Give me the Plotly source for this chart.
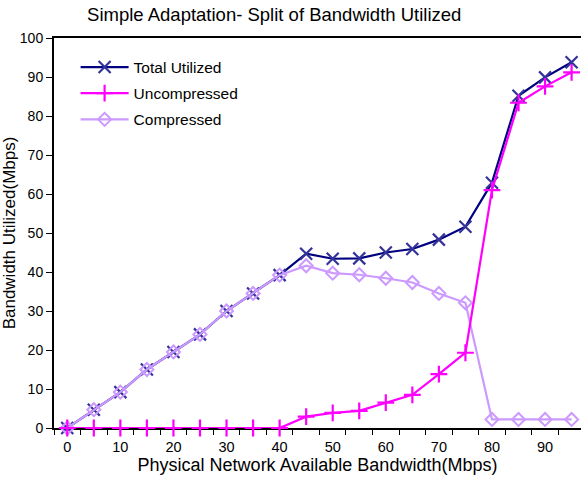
import plotly.graph_objects as go

# Physical network available bandwidth (Mbps)
bandwidth = [0, 5, 10, 15, 20, 25, 30, 35, 40, 45, 50, 55, 60, 65, 70, 75, 80, 85, 90, 95]

# Bandwidth utilized (Mbps)
total_utilized = [0, 4.7, 9.2, 15.0, 19.5, 24.0, 30.0, 34.5, 39.2, 44.7, 43.4, 43.5,
                  45.0, 45.9, 48.3, 51.6, 62.9, 85.2, 89.9, 93.8]
uncompressed = [0, 0, 0, 0, 0, 0, 0, 0, 0, 2.9, 3.9, 4.4,
                6.5, 8.5, 13.8, 19.3, 61.0, 83.4, 87.6, 91.2]
compressed = [0, 4.7, 9.2, 15.0, 19.5, 24.0, 30.0, 34.5, 39.2, 41.6, 39.7, 39.3,
              38.4, 37.3, 34.5, 32.1, 2.2, 2.2, 2.2, 2.2]

x_ticks = [0, 10, 20, 30, 40, 50, 60, 70, 80, 90]
y_ticks = [0, 10, 20, 30, 40, 50, 60, 70, 80, 90, 100]

FONT = "Arial, Liberation Sans, sans-serif"

fig = go.Figure()

fig.add_trace(go.Scatter(
    x=bandwidth, y=total_utilized, name="Total Utilized", mode="lines+markers",
    legendgroup="a", legendrank=1, cliponaxis=False,
    line=dict(color="#000080", width=2.2),
    marker=dict(symbol="x-thin", size=12, line=dict(color="#333399", width=2.2)),
))
fig.add_trace(go.Scatter(
    x=bandwidth, y=compressed, name="Compressed", mode="lines+markers",
    legendgroup="c", legendrank=3, cliponaxis=False,
    line=dict(color="#CC99FF", width=2.2),
    marker=dict(symbol="diamond-open", size=10, color="#CC99FF",
                line=dict(color="#CC99FF", width=2)),
))
fig.add_trace(go.Scatter(
    x=bandwidth, y=uncompressed, name="Uncompressed", mode="lines+markers",
    legendgroup="b", legendrank=2, cliponaxis=False,
    line=dict(color="#FF00FF", width=2.2),
    marker=dict(symbol="cross-thin", size=12, line=dict(color="#FF00FF", width=2.2)),
))

fig.update_layout(
    width=581, height=482,
    margin=dict(l=54, r=0, t=38, b=54),
    paper_bgcolor="white", plot_bgcolor="white",
    font=dict(family=FONT, color="black", size=14),
    title=dict(text="Simple Adaptation- Split of Bandwidth Utilized",
               x=0.472, xanchor="center", y=0.97, yanchor="middle",
               font=dict(size=18.5, family=FONT)),
    legend=dict(x=0.041, y=0.968, xanchor="left", yanchor="top",
                bgcolor="rgba(0,0,0,0)", font=dict(size=15.5, family=FONT),
                traceorder="grouped", itemwidth=48, tracegroupgap=3),
    showlegend=True,
)

fig.update_xaxes(
    range=[-2.5, 96.77], tickmode="array", tickvals=x_ticks,
    ticks="", showgrid=False, zeroline=False, layer="below traces",
    showline=True, linecolor="black", linewidth=2, mirror=True,
    tickfont=dict(size=14.5), ticklabelstandoff=5,
    minor=dict(ticks="outside", tick0=-2.5, dtick=5, ticklen=5,
               tickcolor="black", tickwidth=1, showgrid=False),
    title=dict(text="Physical Network Available Bandwidth(Mbps)",
               font=dict(size=18), standoff=1),
)
fig.update_yaxes(
    range=[0, 100], tickmode="array", tickvals=y_ticks,
    ticks="outside", ticklen=6, tickcolor="black", tickwidth=1,
    showgrid=False, zeroline=False, layer="below traces",
    showline=True, linecolor="black", linewidth=2, mirror=False,
    tickfont=dict(size=14),
    title=dict(text="Bandwidth Utilized(Mbps)", font=dict(size=17), standoff=2),
)

fig.write_html("out.html")
